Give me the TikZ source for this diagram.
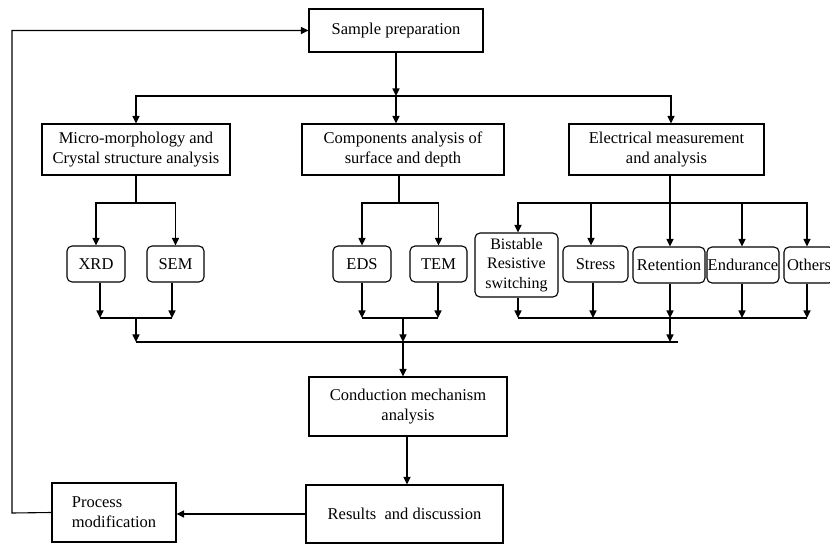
\documentclass[tikz,border=0pt]{standalone}
\usepackage{fontspec}
\setmainfont{Liberation Serif}
\usetikzlibrary{arrows.meta}
\begin{document}
\begin{tikzpicture}[x=1pt,y=-1pt,
  font=\fontsize{16.5}{20}\selectfont,
  line width=1.1pt,
  box/.style={draw, rectangle, inner sep=0pt, align=center},
  rbox/.style={draw, rectangle, rounded corners=5pt, inner sep=0pt, align=center},
  arr/.style={-{Triangle[length=7.5pt,width=7pt]}}]
\useasboundingbox (0,0) rectangle (830,545);
% main boxes
\node[box, minimum width=174pt, minimum height=43pt] (sp) at (396,30.5) {Sample preparation};
\node[box, minimum width=188pt, minimum height=51pt] (micro) at (136,149.5) {Micro-morphology and\\Crystal structure analysis};
\node[box, minimum width=202pt, minimum height=51pt] (comp) at (403,149.5) {Components analysis of\\surface and depth};
\node[box, minimum width=195pt, minimum height=51pt] (elec) at (666.5,149.5) {Electrical measurement\\and analysis};
\node[box, minimum width=198pt, minimum height=59pt] (cond) at (408,406.5) {Conduction mechanism\\analysis};
\node[box, minimum width=197pt, minimum height=58pt] (res) at (404.5,514) {Results~ and discussion};
\node[box, minimum width=124pt, minimum height=59pt, align=left] (pm) at (114,512.5) {Process\\modification};
% rounded boxes
\node[rbox, minimum width=58pt, minimum height=36pt] (xrd) at (96,264) {XRD};
\node[rbox, minimum width=57pt, minimum height=36pt] (sem) at (175.5,264) {SEM};
\node[rbox, minimum width=58pt, minimum height=36pt] (eds) at (362,264) {EDS};
\node[rbox, minimum width=57pt, minimum height=36pt] (tem) at (438.5,264) {TEM};
\node[rbox, minimum width=83pt, minimum height=64pt, font=\fontsize{16}{19.5}\selectfont] (bis) at (516.5,265) {Bistable\\Resistive\\switching};
\node[rbox, minimum width=65pt, minimum height=36pt] (str) at (595.5,264) {Stress};
\node[rbox, minimum width=72pt, minimum height=36pt] (ret) at (669,265) {Retention};
\node[rbox, minimum width=72pt, minimum height=36pt] (end) at (743,265) {Endurance};
\node[rbox, minimum width=50pt, minimum height=36pt] (oth) at (809,265) {Others};
% junction coordinates
\coordinate (fbB) at (12,513);
\coordinate (j1) at (396,96);
\coordinate (elX) at (671,96);
\coordinate (mJ) at (136,203);
\coordinate (cJ) at (399,203);
\coordinate (eJ) at (670,203);
\coordinate (bisX) at (518,203);
\coordinate (strX) at (591,203);
\coordinate (endX) at (742,203);
\coordinate (othX) at (807,203);
\coordinate (xrdO) at (100,318);
\coordinate (semO) at (172,318);
\coordinate (mB) at (136,318);
\coordinate (mC) at (136,342);
\coordinate (edsO) at (362,318);
\coordinate (temO) at (438,318);
\coordinate (cB) at (403,318);
\coordinate (cC) at (403,342);
\coordinate (bisO) at (518,318);
\coordinate (strO) at (593,318);
\coordinate (retO) at (670,318);
\coordinate (endO) at (742,318);
\coordinate (othO) at (807,318);
\coordinate (eC) at (670,342);
\coordinate (lineEnd) at (678,342);
\coordinate (crX) at (407,436);
% feedback loop
\draw[arr] (pm.west) -- (fbB) |- (sp.west);
% top split
\draw[arr] (sp.south) -- (j1);
\draw[arr] (j1) -- (j1 |- comp.north);
\draw[arr] (j1) -| (micro.north);
\draw[arr] (j1) -- (elX) -- (elX |- elec.north);
% micro branch
\draw (micro.south) -- (mJ);
\draw[arr] (mJ) -| (xrd.north);
\draw[arr] (mJ) -| (sem.north);
\draw[arr] (xrdO |- xrd.south) -- (xrdO);
\draw[arr] (semO |- sem.south) -- (semO);
\draw (xrdO) -- (semO);
\draw[arr] (mB) -- (mC);
% components branch
\draw (cJ |- comp.south) -- (cJ);
\draw[arr] (cJ) -| (eds.north);
\draw[arr] (cJ) -| (tem.north);
\draw[arr] (edsO |- eds.south) -- (edsO);
\draw[arr] (temO |- tem.south) -- (temO);
\draw (edsO) -- (temO);
\draw[arr] (cB) -- (cC);
% electrical branch
\draw (eJ |- elec.south) -- (eJ);
\draw[arr] (eJ) -- (eJ |- ret.north);
\draw[arr] (eJ) -- (bisX) -- (bisX |- bis.north);
\draw[arr] (strX) -- (strX |- str.north);
\draw[arr] (eJ) -- (endX) -- (endX |- end.north);
\draw[arr] (endX) -- (othX) -- (othX |- oth.north);
\draw[arr] (bisO |- bis.south) -- (bisO);
\draw[arr] (strO |- str.south) -- (strO);
\draw[arr] (retO |- ret.south) -- (retO);
\draw[arr] (endO |- end.south) -- (endO);
\draw[arr] (othO |- oth.south) -- (othO);
\draw (bisO) -- (othO);
\draw[arr] (retO) -- (eC);
% collector
\draw (mC) -- (lineEnd);
\draw[arr] (cC) -- (cC |- cond.north);
% bottom
\draw[arr] (crX |- cond.south) -- (crX |- res.north);
\draw[arr] (res.west) -- (res.west -| pm.east);
\end{tikzpicture}
\end{document}
